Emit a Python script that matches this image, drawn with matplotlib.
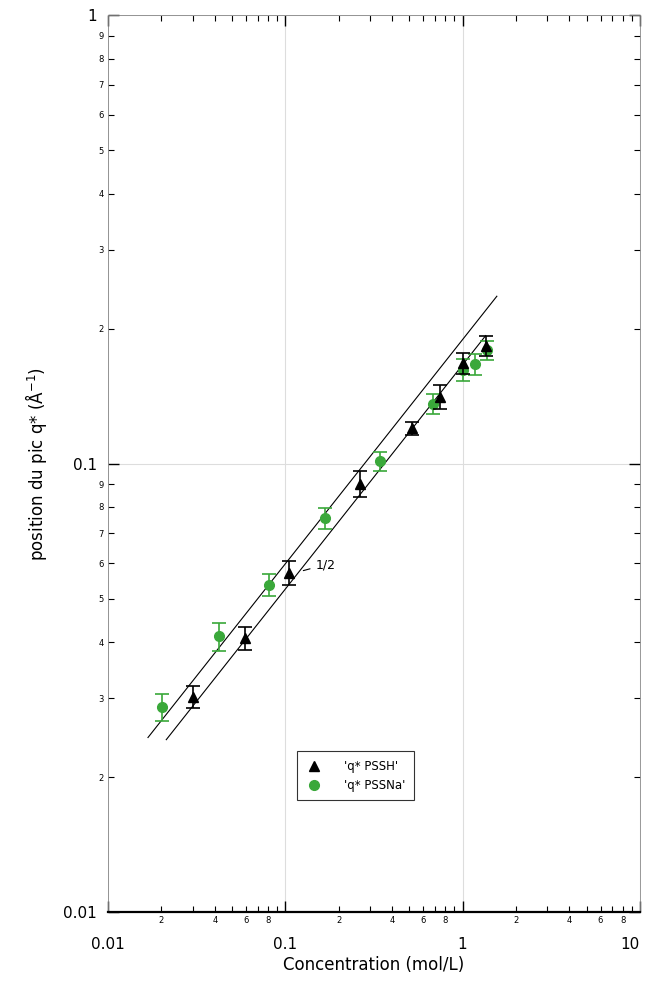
import matplotlib
matplotlib.use("Agg")
import matplotlib.pyplot as plt
from matplotlib.ticker import LogLocator, FuncFormatter, FixedLocator
from matplotlib.lines import Line2D
import numpy as np

# Data: PSS-H (black triangles)
c_H = [0.030, 0.059, 0.105, 0.265, 0.52, 0.75, 1.01, 1.35]
q_H = [0.0302, 0.0408, 0.057, 0.090, 0.120, 0.141, 0.1675, 0.183]
e_H = [0.0017, 0.0025, 0.0035, 0.0060, 0.0040, 0.0090, 0.0090, 0.0090]

# Data: PSS-Na (green circles)
c_Na = [0.0202, 0.0424, 0.0812, 0.168, 0.34, 0.677, 1.0, 1.17, 1.38]
q_Na = [0.0286, 0.0412, 0.0536, 0.0756, 0.1013, 0.1357, 0.1616, 0.1668, 0.179]
e_Na = [0.0020, 0.0030, 0.0030, 0.0040, 0.0050, 0.0070, 0.0090, 0.0090, 0.0090]

# Slope 1/2 guide lines: q = A * c^0.5
line_upper_c = [0.0168, 1.56]
line_upper_A = 0.189
line_lower_c = [0.0213, 1.35]
line_lower_A = 0.1660

x_major = [0.01, 0.1, 1, 10]
x_major_labels = ["0.01", "0.1", "1", "10"]
y_major = [0.01, 0.1, 1]
y_major_labels = ["0.01", "0.1", "1"]

green = "#3aa83a"

fig = plt.figure(figsize=(6.47, 9.83), dpi=100)
ax = fig.add_axes([0.167, 0.0722, 0.822, 0.9125])
ax.set_xscale("log")
ax.set_yscale("log")
ax.set_xlim(0.01, 10)
ax.set_ylim(0.01, 1)

ax.grid(True, which="major", color="#dddddd", linewidth=0.8)

cu = np.array(line_upper_c)
ax.plot(cu, line_upper_A * np.sqrt(cu), color="black", lw=0.8)
cl = np.array(line_lower_c)
ax.plot(cl, line_lower_A * np.sqrt(cl), color="black", lw=0.8)

ax.errorbar(c_H, q_H, yerr=e_H, fmt="^", color="black", ms=7, capsize=5,
            elinewidth=1.2, capthick=1.2, zorder=4)
ax.errorbar(c_Na, q_Na, yerr=e_Na, fmt="o", color=green, ms=7, capsize=5,
            elinewidth=1.2, capthick=1.2, zorder=3)

# "1/2" annotation
ax.annotate("1/2", xy=(0.122, 0.0575), xytext=(0.148, 0.0595),
            fontsize=9, va="center",
            arrowprops=dict(arrowstyle="-", color="black", lw=0.8))

# ticks
def nearest(vals, labels, v):
    i = int(np.argmin([abs(np.log10(m) - np.log10(v)) for m in vals]))
    return labels[i]

ax.xaxis.set_major_locator(FixedLocator(x_major))
ax.xaxis.set_major_formatter(FuncFormatter(lambda v, p: nearest(x_major, x_major_labels, v)))
ax.yaxis.set_major_locator(FixedLocator(y_major))
ax.yaxis.set_major_formatter(FuncFormatter(lambda v, p: nearest(y_major, y_major_labels, v)))

ax.xaxis.set_minor_locator(LogLocator(base=10, subs=np.arange(2, 10), numticks=20))
ax.yaxis.set_minor_locator(LogLocator(base=10, subs=np.arange(2, 10), numticks=20))

def xminor(v, p):
    d = int(round(v / 10 ** np.floor(np.log10(v) + 1e-9)))
    return str(d) if d in (2, 4, 6, 8) else ""

def yminor(v, p):
    d = int(round(v / 10 ** np.floor(np.log10(v) + 1e-9)))
    return str(d)

ax.xaxis.set_minor_formatter(FuncFormatter(xminor))
ax.yaxis.set_minor_formatter(FuncFormatter(yminor))

ax.tick_params(which="both", direction="in", top=True, right=True)
ax.tick_params(which="major", length=8, width=1.0, labelsize=11)
ax.tick_params(axis="x", which="major", pad=18)
ax.tick_params(axis="y", which="major", pad=8)
ax.tick_params(which="minor", length=4, width=0.8, labelsize=6, pad=3)

fig.canvas.draw()
for lab in ax.get_xticklabels():
    if lab.get_text() == "10":
        lab.set_horizontalalignment("right")

for s in ("top", "right", "left"):
    ax.spines[s].set_color("#888888")
    ax.spines[s].set_linewidth(0.6)
ax.spines["bottom"].set_linewidth(1.6)
ax.spines["bottom"].set_color("black")

ax.set_xlabel("Concentration (mol/L)", fontsize=12, labelpad=3)
ax.set_ylabel("position du pic q* (Å$^{-1}$)", fontsize=12, labelpad=10)

handles = [Line2D([], [], marker="^", color="black", ls="none", ms=7),
           Line2D([], [], marker="o", color=green, ls="none", ms=7)]
leg = ax.legend(handles, ["'q* PSSH'", "'q* PSSNa'"], loc="upper left",
                bbox_to_anchor=(0.355, 0.179), fontsize=8.5,
                frameon=True, fancybox=False, edgecolor="black",
                handlelength=1.5, handletextpad=1.8, borderpad=0.7,
                labelspacing=0.5, borderaxespad=0)
leg.get_frame().set_linewidth(0.8)

fig.savefig("out.png", dpi=100)
